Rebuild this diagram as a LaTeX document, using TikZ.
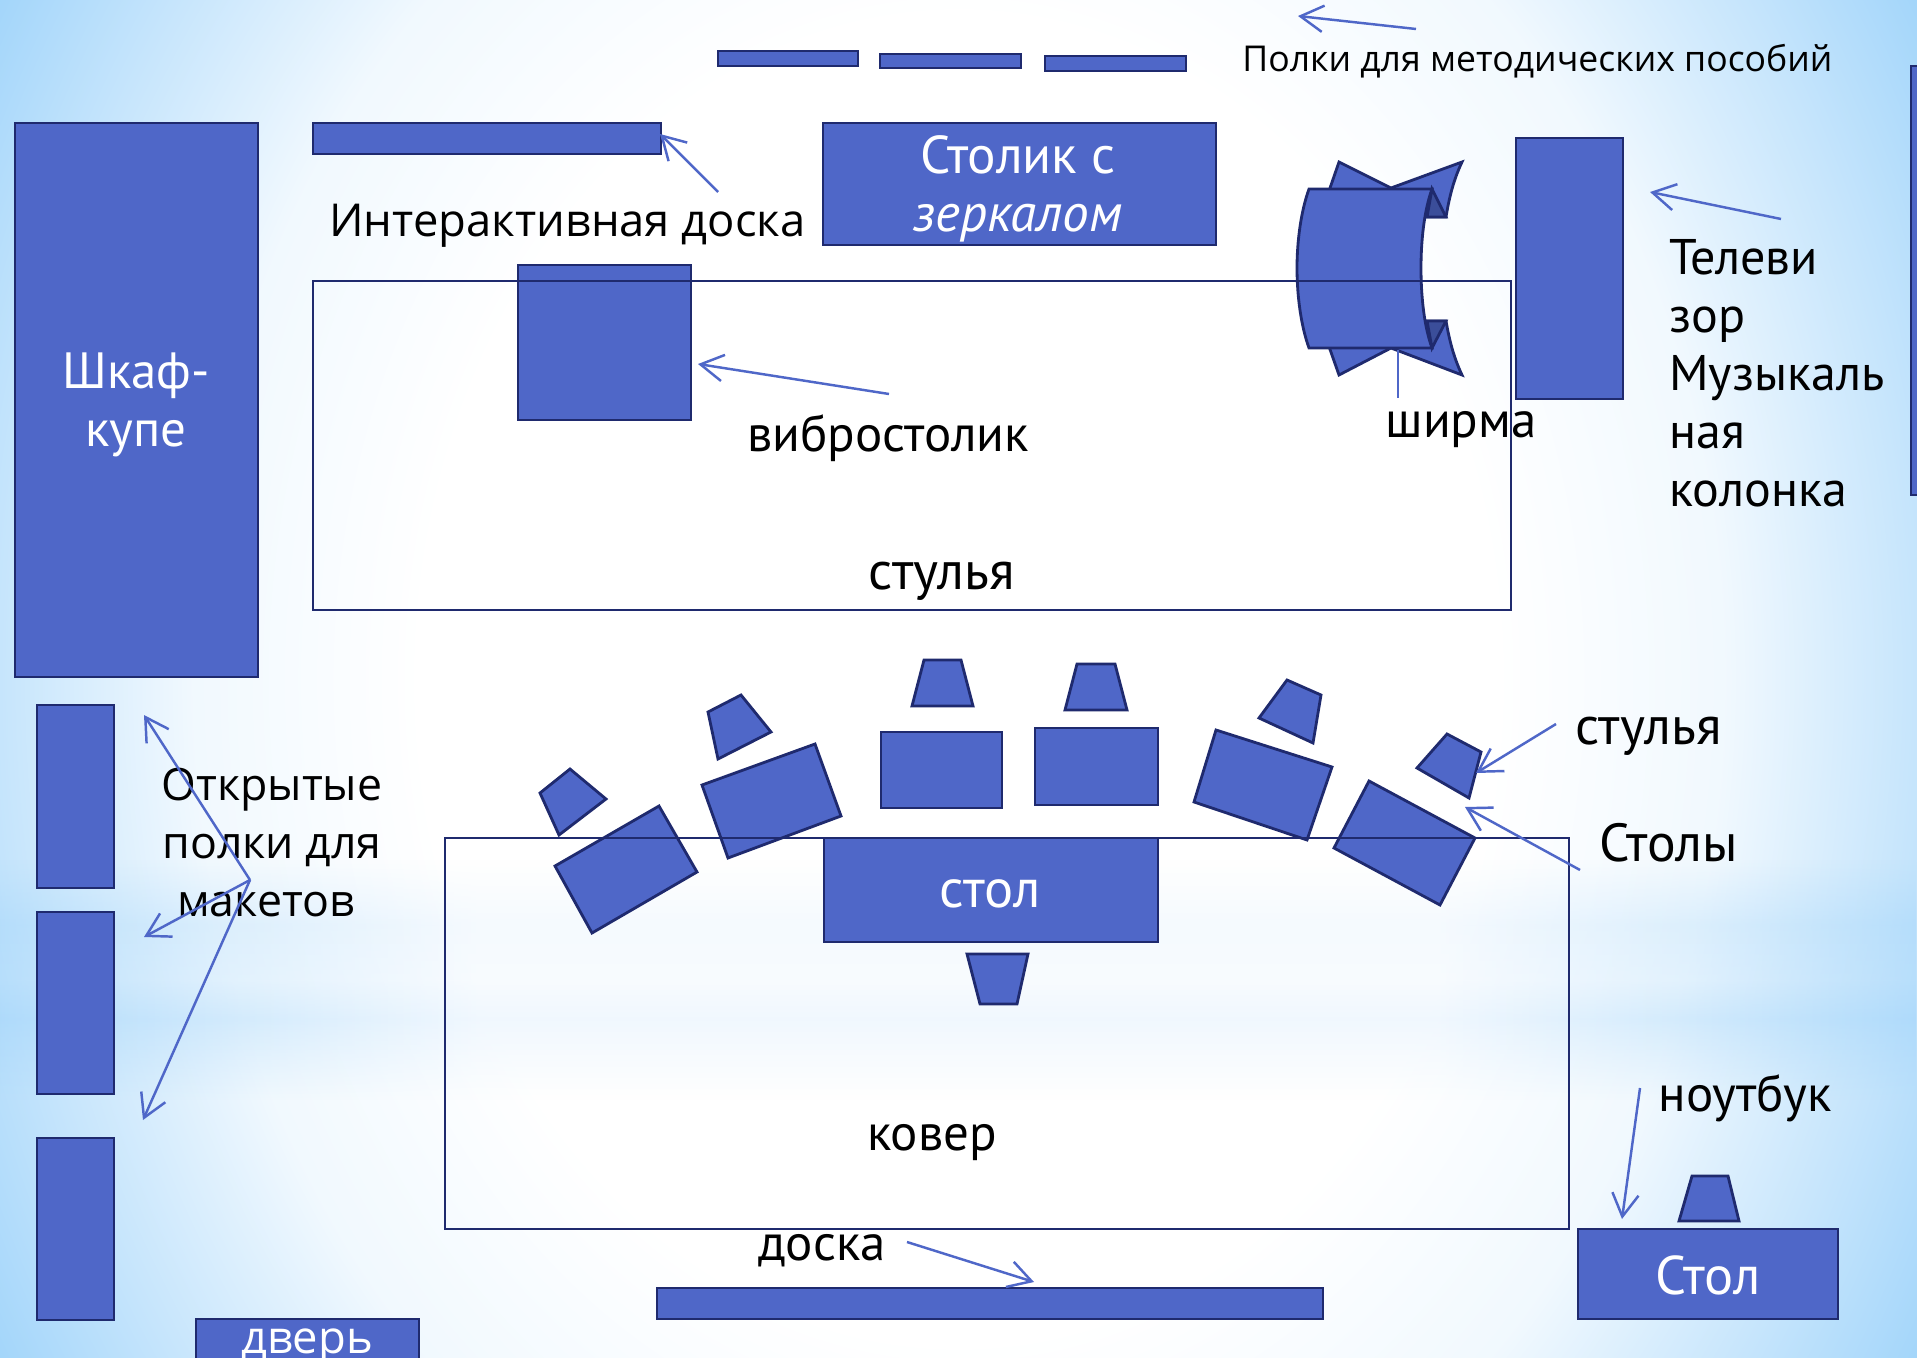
\documentclass[tikz,border=0pt]{standalone}
\usepackage{fontspec}
\setmainfont{Open Sans}
\newfontfamily\hum{PT Sans}
\usetikzlibrary{arrows.meta,fadings}
\definecolor{shapefill}{HTML}{4F67C8}
\definecolor{shapeline}{HTML}{1F2A6E}
\definecolor{fold}{HTML}{3B4E9A}
\definecolor{edgeblue}{HTML}{A2D5FA}
\definecolor{midblue}{HTML}{C6E5FC}
\definecolor{bandmid}{HTML}{EDF6FE}
\pgfdeclareradialshading{bgrad}{\pgfpoint{0bp}{0bp}}{
 color(0bp)=(white); color(14bp)=(white); color(20bp)=(white!75!midblue); color(25bp)=(midblue); color(29bp)=(edgeblue); color(50bp)=(edgeblue)}
\pgfdeclarehorizontalshading{bgband}{100bp}{
 color(0bp)=(edgeblue!90!white); color(25bp)=(edgeblue!90!white); color(37.5bp)=(bandmid); color(62.5bp)=(bandmid); color(75bp)=(edgeblue!90!white); color(100bp)=(edgeblue!90!white)}
\pgfdeclareverticalshading{bandprof}{100bp}{
 color(0bp)=(pgftransparent!100); color(25bp)=(pgftransparent!100); color(41bp)=(pgftransparent!25); color(42bp)=(pgftransparent!20); color(50bp)=(pgftransparent!60); color(61.5bp)=(pgftransparent!45); color(75bp)=(pgftransparent!100); color(100bp)=(pgftransparent!100)}
\pgfdeclarefading{bandf}{\pgfuseshading{bandprof}}
\tikzset{
 x=0.02cm,y=-0.02cm,
 solid shape/.style={fill=shapefill,draw=shapeline,line width=1.6pt,line join=miter},
 open rect/.style={draw=shapeline,line width=1.6pt},
 pointer/.style={draw=shapefill,line width=1.4pt,-{Straight Barb[length=13pt,width=15pt,line width=1.4pt]}},
 lbl/.style={inner sep=0pt,font=\fontsize{25.8}{33}\selectfont,text=black},
 hlbl/.style={inner sep=0pt,font=\hum\fontsize{29}{33}\selectfont,text=black},
 wlbl/.style={inner sep=0pt,font=\hum\fontsize{31}{33}\selectfont,text=white},
}
\begin{document}
\begin{tikzpicture}
\useasboundingbox (0,0) rectangle (1917,1358);
\clip (0,0) rectangle (1917,1358);
% background
\shade[shading=bgrad] (0,-500) rectangle (1917,1858);
\shade[shading=bgband,path fading=bandf] (0,860) rectangle (1917,1100);
\begin{scope}[shift={(0,1)}]
% top shelves
\draw[solid shape] (718,50) rectangle (858,65);
\draw[solid shape] (880,53) rectangle (1021,67);
\draw[solid shape] (1045,55) rectangle (1186,70);
% wardrobe, board, mirror table
\draw[solid shape] (15,122) rectangle (258,676);
\draw[solid shape] (313,122) rectangle (661,153);
\draw[solid shape] (823,122) rectangle (1216,244);
% screen, back wings and folds
\draw[solid shape] (1339,161) -- (1391,187) -- (1462,161) .. controls (1453,180) and (1449,198) .. (1446,216) -- (1427,216) -- (1320,216) -- cycle;
\draw[solid shape] (1339,374) -- (1391,347) -- (1462,374) .. controls (1453,355) and (1449,337) .. (1446,320) -- (1427,320) -- (1320,320) -- cycle;
\draw[solid shape,fill=fold] (1432,188) -- (1446,216) -- (1427,216) -- cycle;
\draw[solid shape,fill=fold] (1432,347) -- (1446,320) -- (1427,320) -- cycle;
\draw[solid shape] (1309,188) -- (1432,188) .. controls (1424,210) and (1421,240) .. (1421,267) .. controls (1421,295) and (1424,325) .. (1432,347) -- (1309,347) .. controls (1301,325) and (1297,295) .. (1297,267) .. controls (1297,240) and (1301,210) .. (1309,188) -- cycle;
% tv, right bar, vibro table
\draw[solid shape] (1516,137) rectangle (1623,398);
\draw[solid shape] (1911,65) rectangle (1930,494);
\draw[solid shape] (518,264) rectangle (691,419);
% tables
\draw[solid shape] (659,805) -- (697,871) -- (592,932) -- (555,865) -- cycle;
\draw[solid shape] (815,743) -- (841,815) -- (728,857) -- (702,784) -- cycle;
\draw[solid shape] (881,731) rectangle (1002,807);
\draw[solid shape] (1035,727) rectangle (1158,804);
\draw[solid shape] (1216,729) -- (1332,766) -- (1307,839) -- (1194,801) -- cycle;
\draw[solid shape] (1369,780) -- (1475,837) -- (1440,904) -- (1334,847) -- cycle;
% chairs
\draw[solid shape] (570,768) -- (606,798) -- (559,834) -- (540,792) -- cycle;
\draw[solid shape] (741,694) -- (771,731) -- (718,758) -- (708,711) -- cycle;
\draw[solid shape] (924,659) -- (961,659) -- (973,705) -- (912,705) -- cycle;
\draw[solid shape] (1077,663) -- (1115,663) -- (1127,709) -- (1065,709) -- cycle;
\draw[solid shape] (1287,679) -- (1321,694) -- (1313,742) -- (1259,717) -- cycle;
\draw[solid shape] (1447,733) -- (1481,751) -- (1469,797) -- (1417,767) -- cycle;
\draw[solid shape] (967,953) -- (1028,953) -- (1017,1003) -- (980,1003) -- cycle;
\draw[solid shape] (1692,1175) -- (1728,1175) -- (1739,1220) -- (1679,1220) -- cycle;
% outlines of chairs zone and carpet
\draw[open rect] (313,280) rectangle (1511,609);
\draw[open rect] (445,837) rectangle (1569,1228);
\draw[solid shape] (824,837) rectangle (1158,941);
% left shelves, door, bottom board, right table
\draw[solid shape] (37,704) rectangle (114,887);
\draw[solid shape] (37,911) rectangle (114,1093);
\draw[solid shape] (37,1137) rectangle (114,1319);
\draw[solid shape] (196,1318) rectangle (419,1380);
\draw[solid shape] (657,1287) rectangle (1323,1318);
\draw[solid shape] (1578,1228) rectangle (1838,1318);
\end{scope}
% labels
\node[lbl,font=\fontsize{20.25}{30}\selectfont,anchor=west] (shelves) at (1242,61) {Полки для методических пособий};
\node[lbl,anchor=west] (iboard) at (329,226) {Интерактивная доска};
\node[wlbl,align=center,font=\hum\fontsize{30.3}{33}\selectfont] (mirror) at (1018,189) {Столик с\\ \itshape зеркалом};
\node[wlbl,align=center,font=\hum\fontsize{29}{33}\selectfont] (closet) at (136,405) {Шкаф-\\купе};
\node[hlbl] (vibro) at (888,438) {вибростолик};
\node[hlbl] (screen) at (1461,430) {ширма};
\node[hlbl,anchor=west,align=left,text width=300pt,font=\hum\fontsize{28.5}{33}\selectfont] (tv) at (1669,373) {Телеви\\зор\\Музыкаль\\ная\\колонка};
\node[hlbl,font=\hum\fontsize{30.5}{33}\selectfont] (chairs1) at (942,581) {стулья};
\node[hlbl,anchor=west,font=\hum\fontsize{30.5}{33}\selectfont] (chairs2) at (1575,736) {стулья};
\node[hlbl,anchor=west,font=\hum\fontsize{30.5}{33}\selectfont] (tables) at (1599,843) {Столы};
\node[lbl,align=center,font=\fontsize{25.4}{33}\selectfont] (open) at (272,843) {Открытые\\полки для\\макетов\hspace*{0.24cm}};
\node[hlbl] (carpet) at (932,1143) {ковер};
\node[hlbl] (dboard) at (822,1251) {доска};
\node[hlbl] (notebook) at (1745,1098) {ноутбук};
\node[wlbl] (rtable) at (1708,1275) {Стол};
\node[wlbl] (ctable) at (990,894) {стол};
\node[lbl,text=white] (door) at (307,1347) {дверь};
% connectors
\coordinate (hub) at (250,880);
\coordinate (s1) at (144,715); \coordinate (s2) at (144,937); \coordinate (s3) at (143,1120);
\draw[pointer] (hub) -- (s1);
\draw[pointer] (hub) -- (s2);
\draw[pointer] (hub) -- (s3);
\coordinate (a1) at (1416,29); \coordinate (a1e) at (1298,16);
\draw[pointer] (a1) -- (a1e);
\coordinate (a2) at (718,192); \coordinate (a2e) at (660,134);
\draw[pointer] (a2) -- (a2e);
\coordinate (a3) at (1781,219); \coordinate (a3e) at (1650,192);
\draw[pointer] (a3) -- (a3e);
\coordinate (a4) at (889,394); \coordinate (a4e) at (698,364);
\draw[pointer] (a4) -- (a4e);
\coordinate (a5) at (1556,724); \coordinate (a5e) at (1476,773);
\draw[pointer] (a5) -- (a5e);
\coordinate (a6) at (1580,870); \coordinate (a6e) at (1465,807);
\draw[pointer] (a6) -- (a6e);
\coordinate (a7) at (1640,1088); \coordinate (a7e) at (1622,1219);
\draw[pointer] (a7) -- (a7e);
\coordinate (a8) at (907,1242); \coordinate (a8e) at (1034,1282);
\draw[pointer] (a8) -- (a8e);
\coordinate (a9) at (1398,350); \coordinate (a9e) at (1398,398);
\draw[draw=shapefill,line width=1.4pt] (a9) -- (a9e);
\end{tikzpicture}
\end{document}
